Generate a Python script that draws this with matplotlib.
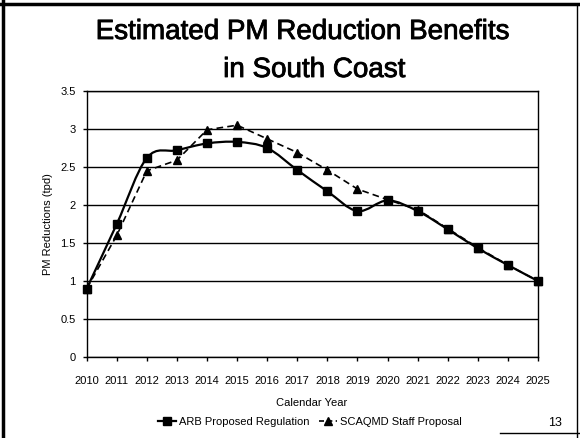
import matplotlib
matplotlib.use("Agg")
import matplotlib.pyplot as plt
from matplotlib.lines import Line2D
from matplotlib.path import Path
from matplotlib.patches import PathPatch
import matplotlib.patheffects as pe
import numpy as np

# Data
years = list(range(2010, 2026))
arb_regulation = [0.90, 1.75, 2.62, 2.72, 2.81, 2.83, 2.75, 2.46, 2.18, 1.92,
                  2.06, 1.92, 1.68, 1.43, 1.21, 1.00]
scaqmd_proposal = [0.90, 1.60, 2.45, 2.59, 2.99, 3.05, 2.87, 2.69, 2.46, 2.21,
                   2.07, 1.94, 1.69, 1.44, 1.21, 1.00]
y_ticks = [0, 0.5, 1, 1.5, 2, 2.5, 3, 3.5]
series_names = ["ARB Proposed Regulation", "SCAQMD Staff Proposal"]

W, H = 580, 438
sans = ["Liberation Sans", "DejaVu Sans"]


def smooth_path(xs, ys):
    """Catmull-Rom style Bezier path through the points (spreadsheet-like smoothing)."""
    pts = np.column_stack([xs, ys]).astype(float)
    n = len(pts)
    verts = [pts[0]]
    codes = [Path.MOVETO]
    for i in range(n - 1):
        p0 = pts[i - 1] if i > 0 else pts[i]
        p1 = pts[i]
        p2 = pts[i + 1]
        p3 = pts[i + 2] if i + 2 < n else pts[i + 1]
        c1 = p1 + (p2 - p0) / 6.0
        c2 = p2 - (p3 - p1) / 6.0
        verts += [c1, c2, p2]
        codes += [Path.CURVE4] * 3
    return Path(np.array(verts), codes)


fig = plt.figure(figsize=(W / 100, H / 100), dpi=100)
fig.patch.set_facecolor("white")

left, right, top, bottom = 86.7, 538.0, 91.0, 357.0
ax = fig.add_axes([left / W, 1 - bottom / H, (right - left) / W, (bottom - top) / H])
ax.set_xlim(years[0], years[-1])
ax.set_ylim(0, 3.5)

# Horizontal gridlines
for v in y_ticks:
    ax.axhline(v, color="black", lw=1.0, zorder=1)

for s in ax.spines.values():
    s.set_color("black")
    s.set_linewidth(1.0)

ax.set_xticks(years)
ax.set_xticklabels([str(y) for y in years], fontsize=8, family=sans)
ax.set_yticks(y_ticks)
ax.set_yticklabels([f"{v:g}" for v in y_ticks], fontsize=8, family=sans)
ax.tick_params(axis="x", direction="out", length=3, width=1, pad=11)
ax.tick_params(axis="y", direction="out", length=3, width=1, pad=5)

# ARB: smoothed solid line with squares
ax.add_patch(PathPatch(smooth_path(years, arb_regulation), fill=False,
                       edgecolor="black", lw=1.6, zorder=3, clip_on=False))
ax.plot(years, arb_regulation, ls="none", marker="s", ms=5.5, color="black",
        zorder=4, clip_on=False)

# SCAQMD: dashed line with triangles
ax.plot(years, scaqmd_proposal, ls=(0, (4, 2.5)), lw=1.2, marker="^", ms=5.5,
        color="black", zorder=3, clip_on=False)

# Titles and labels
title_style = dict(fontsize=20, family=sans, color="black", va="baseline",
                   ha="center",
                   path_effects=[pe.withStroke(linewidth=0.6, foreground="black")])
fig.text(302 / W, 1 - 39 / H, "Estimated PM Reduction Benefits", **title_style)
fig.text(314 / W, 1 - 77 / H, "in South Coast", **title_style)

fig.text(312 / W, 1 - 403 / H, "Calendar Year", fontsize=8, family=sans,
         ha="center", va="center")
fig.text(48 / W, 1 - 224 / H, "PM Reductions (tpd)", fontsize=8, family=sans,
         ha="center", va="center", rotation=90)

handles = [
    Line2D([], [], color="black", lw=1.6, marker="s", ms=5.5),
    Line2D([], [], color="black", lw=1.2, ls=(0, (3, 2)), marker="^", ms=5.5),
]
fig.legend(handles, series_names, loc="center", ncol=2, frameon=False,
           bbox_to_anchor=(310 / W, 1 - 422 / H), handlelength=1.6,
           handletextpad=0.3, columnspacing=0.8,
           prop={"family": sans, "size": 8})

# Slide number and page frame
fig.text(555 / W, 1 - 423 / H, "13", fontsize=9, family=sans,
         ha="center", va="center")
fig.add_artist(Line2D([500 / W, 1.0], [1 - 433 / H] * 2, transform=fig.transFigure,
                      color="black", lw=1.0))
fig.add_artist(Line2D([3 / W, 3 / W], [0, 1], transform=fig.transFigure,
                      color="black", lw=2.5))
fig.add_artist(Line2D([0, 1], [1 - 4 / H] * 2, transform=fig.transFigure,
                      color="black", lw=2.5))
fig.add_artist(Line2D([577 / W, 577 / W], [0, 1 - 4 / H], transform=fig.transFigure,
                      color="black", lw=1.0))

fig.savefig("out.png", dpi=100)
